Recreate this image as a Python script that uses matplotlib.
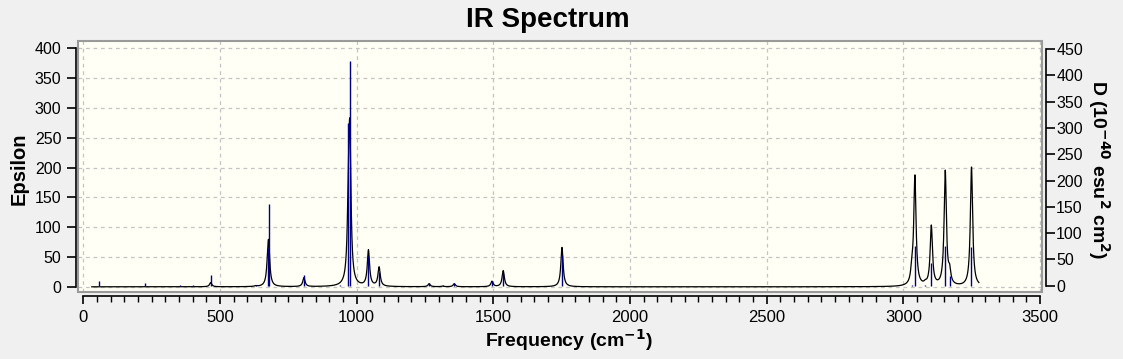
import numpy as np
import matplotlib
matplotlib.use("Agg")
import matplotlib.pyplot as plt
from matplotlib.patches import Rectangle
from matplotlib.ticker import MultipleLocator

plt.rcParams['font.family'] = ['Liberation Sans', 'DejaVu Sans']

# Broadened spectrum: peak centres (cm-1) and epsilon peak heights
curve_freq = [466, 630, 675, 678, 807, 970, 975, 1043, 1082, 1265, 1314, 1357,
              1495, 1536, 1751, 3031, 3042, 3080, 3102, 3153, 3169, 3249]
curve_eps = [7, 1, 25, 60, 15, 100, 230, 60, 32, 5, 1, 5,
             9, 27, 66, 20, 183, 3, 100, 192, 20, 200]
half_width = 5.0
curve_start, curve_end = 31, 3276

# Stick spectrum: frequencies and dipole strengths D (right axis)
stick_freq = [59, 224, 352, 403, 466, 630, 675, 678, 807, 940, 970, 975, 1043,
              1082, 1265, 1314, 1357, 1495, 1536, 1751, 3031, 3042, 3080,
              3102, 3153, 3169, 3249]
stick_D = [9.5, 6, 1.5, 1.5, 21, 2, 72, 156, 21, 2, 310, 427, 56,
           27, 5, 1, 5, 8, 24, 59, 2, 75, 2, 43, 75, 18, 73]

left_ticks = [0, 50, 100, 150, 200, 250, 300, 350, 400]
right_ticks = [0, 50, 100, 150, 200, 250, 300, 350, 400, 450]
x_ticks = [0, 500, 1000, 1500, 2000, 2500, 3000, 3500]

W, H = 1123, 359
fig = plt.figure(figsize=(W / 100, H / 100), dpi=100, facecolor='#f0f0f0')
L, R, T, B = 78, 1042.3, 40.7, 291.7
ax = fig.add_axes([L / W, 1 - B / H, (R - L) / W, (B - T) / H])
ax.set_facecolor('#fffff5')

x = np.arange(curve_start, curve_end + 0.25, 0.25)
y = np.zeros_like(x)
for f0, a in zip(curve_freq, curve_eps):
    y += a / (1 + ((x - f0) / half_width) ** 2)
ax.plot(x, y, color='black', lw=0.9, zorder=3)

ax.set_xlim(-19.4, 3508)
ax.set_ylim(-8.2, 412.7)

ax2 = ax.twinx()
ax2.set_ylim(-11.4, 465.8)
ax2.vlines(stick_freq, 0, stick_D, color='#000080', lw=1.0, zorder=4)

# grid
for t in left_ticks:
    ax.axhline(t, color='#c4c4c4', lw=0.9, ls=(0, (3, 3)), zorder=1)
for t in x_ticks:
    ax.axvline(t, color='#c4c4c4', lw=0.9, ls=(0, (3, 3)), zorder=1)

# frame
ax.add_patch(Rectangle((0, 0), 1, 1, transform=ax.transAxes, fill=False,
                       edgecolor='#9a9a9a', lw=1.5, zorder=6, clip_on=False))

for a_ in (ax, ax2):
    for s in a_.spines.values():
        s.set_visible(False)

# left axis
ax.spines['left'].set_visible(True)
ax.spines['left'].set_position(('outward', 1.5))
ax.spines['left'].set_bounds(0, 400)
ax.spines['left'].set_linewidth(1.2)
ax.set_yticks(left_ticks)
ax.tick_params(axis='y', direction='out', length=6.5, width=1.2, pad=4,
               labelsize=11.5, colors='black')

# bottom axis
ax.spines['bottom'].set_visible(True)
ax.spines['bottom'].set_position(('outward', 3.0))
ax.spines['bottom'].set_bounds(0, 3500)
ax.spines['bottom'].set_linewidth(1.2)
ax.set_xticks(x_ticks)
ax.xaxis.set_minor_locator(MultipleLocator(50))
ax.tick_params(axis='x', which='major', direction='out', length=6, width=1.2,
               pad=4, labelsize=12)
ax.tick_params(axis='x', which='minor', direction='out', length=4, width=1.0)

# right axis
ax2.spines['right'].set_visible(True)
ax2.spines['right'].set_position(('outward', 2.5))
ax2.spines['right'].set_bounds(0, 450)
ax2.spines['right'].set_linewidth(1.2)
ax2.set_yticks(right_ticks)
ax2.tick_params(axis='y', direction='out', length=6.5, width=1.2, pad=1,
                labelsize=11.5)

ax.set_zorder(0)
ax2.set_zorder(1)
ax2.patch.set_visible(False)

fig.text(0.488, 0.945, 'IR Spectrum', ha='center', va='center',
         fontsize=20, fontweight='bold')
fig.text(0.507, 0.052, 'Frequency (cm$^{\\mathbf{-1}}$)', ha='center',
         va='center', fontsize=14, fontweight='bold')
fig.text(0.017, 0.529, 'Epsilon', ha='center', va='center', rotation=90,
         fontsize=14.5, fontweight='bold')
fig.text(0.979, 0.526, 'D (10$^{\\mathbf{-40}}$ esu$^{\\mathbf{2}}$ cm$^{\\mathbf{2}}$)',
         ha='center', va='center', rotation=-90, fontsize=14,
         fontweight='bold')

fig.savefig('out.png', dpi=100, facecolor=fig.get_facecolor())
